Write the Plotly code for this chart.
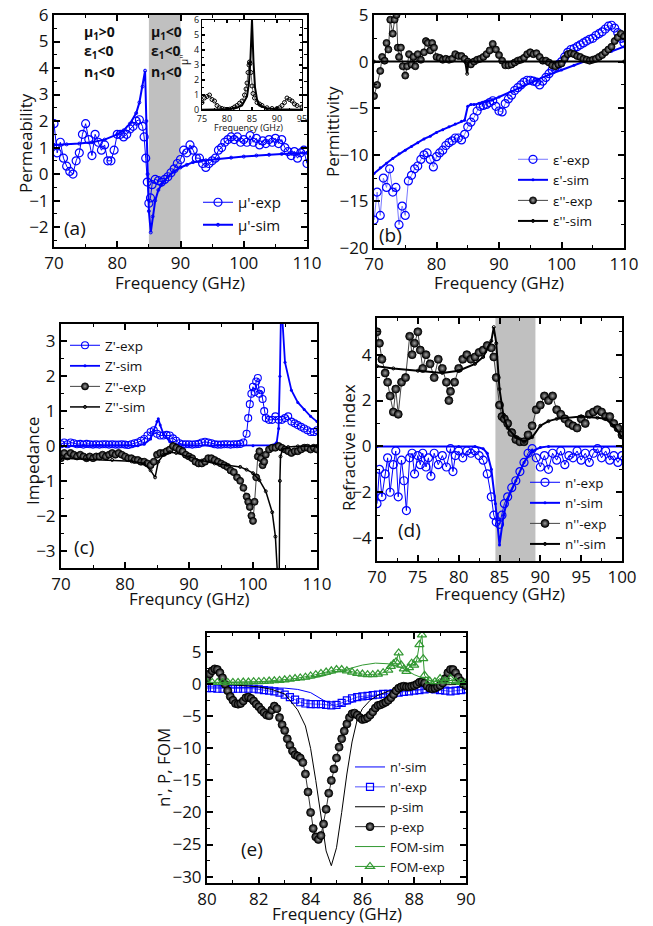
import numpy as np
import plotly.graph_objects as go

# ---------------- Panel (a): permeability ----------------
mu_exp_f = [70.0,70.5,71.0,71.5,72.0,72.5,73.0,73.5,74.0,74.5,75.0,75.5,76.0,76.5,77.0,77.5,78.0,78.5,79.0,79.5,
            80.0,80.5,81.0,81.5,82.0,82.5,83.0,83.5,84.0,84.25,84.5,84.75,85.0,85.25,85.5,86.0,86.5,87.0,87.5,88.0,
            88.5,89.0,89.5,90.0,90.5,91.0,91.5,92.0,92.5,93.0,93.5,94.0,94.5,95.0,95.5,96.0,96.5,97.0,97.5,98.0,
            98.5,99.0,99.5,100.0,100.5,101.0,101.5,102.0,102.5,103.0,103.5,104.0,104.5,105.0,105.5,106.0,106.5,107.0,
            107.5,108.0,108.5,109.0,109.5,110.0]
mu_exp_v = [1.9,0.8,1.2,0.6,0.3,0.1,0.0,0.5,0.8,1.5,1.9,1.3,0.7,1.5,1.2,0.9,1.1,0.5,0.5,0.9,
            1.5,1.5,1.4,1.5,1.7,1.8,2.0,2.05,1.8,1.4,0.6,-0.3,-1.1,-0.9,-0.4,-0.2,-0.25,-0.3,-0.2,-0.1,
            0.05,0.2,0.4,0.55,0.9,0.8,1.1,0.9,0.6,0.6,0.4,0.25,0.4,0.5,0.6,0.9,1.0,1.2,1.3,1.4,
            1.3,1.4,1.2,1.3,1.2,1.45,1.2,1.35,1.1,1.25,1.15,1.3,1.2,1.35,1.15,1.3,1.0,0.85,
            0.7,0.85,0.6,0.8,0.9,0.4]
mu_sim_f = [70,72,74,76,78,80,81,82,83,83.5,84,84.4,84.6,84.8,85.0,85.3,85.6,86.0,86.5,87,88,89,90,91,92,94,96,98,100,102,104,106,108,110]
mu_sim_v = [1.1,1.12,1.15,1.2,1.3,1.5,1.65,1.9,2.3,2.7,3.3,3.9,2.0,0.0,-1.4,-2.2,-1.6,-1.0,-0.6,-0.4,-0.1,0.1,0.25,0.35,0.45,0.52,0.58,0.62,0.66,0.7,0.73,0.76,0.78,0.8]

# inset: mu''
mu2_exp_f = [75,75.5,76,76.5,77,77.5,78,78.5,79,79.5,80,80.5,81,81.5,82,82.5,83,83.5,83.8,84,84.2,84.4,84.5,84.6,84.8,85,85.2,85.5,86,86.5,87,88,89,90,90.5,91,91.5,92,92.5,93,93.5,94,95]
mu2_exp_v = [0.5,0.8,0.9,1.0,0.7,0.6,0.3,0.15,0.1,0.05,0.0,0.05,0.1,0.2,0.3,0.45,0.6,1.0,1.4,1.8,2.5,3.0,3.2,3.1,2.5,1.6,1.1,0.8,0.5,0.4,0.3,0.15,0.1,0.1,0.15,0.3,0.5,0.8,0.7,0.6,0.4,0.3,0.2]
mu2_sim_f = [75,78,80,82,83,84,84.4,84.7,85.0,85.3,85.6,86.0,86.5,88,90,95]
mu2_sim_v = [0.02,0.03,0.05,0.15,0.3,0.9,1.8,3.5,6.0,3.2,1.5,0.7,0.3,0.1,0.05,0.02]

# ---------------- Panel (b): permittivity ----------------
eps_exp_f = [70.0+0.5*i for i in range(81)]
eps_re_exp = [-17.0,-14.0,-16.5,-12.5,-13.5,-11.5,-14.0,-13.5,-17.5,-15.5,-16.5,-12.8,-12.2,-11.5,-11.2,-10.5,-10.0,-9.8,-10.5,-11.3,
              -10.2,-9.8,-9.5,-9.0,-8.7,-8.5,-8.2,-8.2,-8.4,-7.8,-7.0,-6.5,-6.0,-5.3,-4.8,-4.7,-4.6,-4.4,-4.2,-4.8,
              -5.3,-5.4,-4.5,-4.0,-3.6,-3.1,-2.8,-2.5,-2.2,-2.0,-2.0,-2.1,-2.2,-2.5,-2.1,-1.7,-1.3,-0.9,-0.6,-0.3,
              0.0,0.5,1.0,1.3,1.4,1.6,1.8,2.0,2.2,2.4,2.5,2.8,3.0,3.2,3.5,3.8,3.9,3.6,3.1,2.5,2.0]
eps_re_sim_f = [70,71,72,73,74,75,76,77,78,79,80,81,82,83,84,84.5,85.0,85.5,86,87,88,89,90,92,94,96,98,100,102,104,106,108,110]
eps_re_sim_v = [-12.0,-11.4,-10.9,-10.4,-9.9,-9.5,-9.1,-8.7,-8.3,-8.0,-7.6,-7.3,-7.0,-6.7,-6.4,-6.3,-4.8,-4.6,-4.6,-4.5,-4.3,-4.1,-3.8,-3.2,-2.6,-2.0,-1.4,-0.9,-0.4,0.1,0.6,1.1,1.6]
eps_im_exp_f = [70,70.5,71,71.3,71.7,72,72.3,72.6,73,73.3,73.6,73.8,74,74.3,74.6,75,75.3,75.6,76,76.3,76.6,77,77.5,78,78.3,78.6,79,79.3,79.6,
                80,80.5,81,81.5,82,82.5,83,83.5,84,84.5,85,85.5,86,86.5,87,87.5,88,88.5,89,89.5,90,90.5,91,91.5,92,92.5,93,93.5,94,94.5,
                95,95.5,96,96.5,97,97.5,98,98.5,99,99.5,100,100.5,101,101.5,102,102.5,103,103.5,104,104.5,105,105.5,106,106.5,107,107.5,
                108,108.5,109,109.5,110]
eps_im_exp_v = [-3.7,-2.5,-1.0,0.5,0.1,2.0,1.3,4.5,3.0,4.5,5.0,1.5,0.5,1.5,-0.5,-1.5,-0.5,0.8,-0.3,0.5,-0.5,0.8,0.2,1.0,2.2,2.0,1.2,2.0,1.5,
                0.5,0.4,0.2,0.3,0.2,0.3,0.8,0.6,0.6,0.3,0.0,-0.3,0.0,0.2,0.3,0.5,0.8,1.2,1.9,1.3,0.7,0.1,-0.4,-0.4,-0.3,-0.1,0.1,0.2,0.4,0.8,
                1.0,0.8,0.9,0.5,0.1,0.1,-0.1,-0.4,-0.5,-0.3,-0.2,0.3,0.8,0.9,0.8,0.6,0.5,0.3,0.2,0.1,0.2,0.3,0.5,0.7,1.0,1.3,
                1.6,2.2,2.6,3.0,2.7]
eps_im_sim_f = [70,84.6,84.9,85.1,110]
eps_im_sim_v = [0.0,0.0,-1.3,0.0,0.0]

# ---------------- Panel (c): impedance ----------------
z_re_exp_f = [70.0+0.5*i for i in range(58)] + [99.0,99.25,99.5,99.75,100.0,100.25,100.5,100.75,101.0,101.25,101.5,101.75] + [102.0+0.5*i for i in range(17)]
z_re_exp_v = [0.05,0.1,0.05,0.1,0.08,0.05,0.06,0.04,0.06,0.05,0.04,0.05,0.04,0.05,0.05,0.04,0.05,0.04,0.04,0.05,
              0.04,0.03,0.05,0.08,0.1,0.15,0.2,0.3,0.4,0.45,0.35,0.3,0.3,0.32,0.3,0.22,0.15,0.08,0.05,0.05,
              0.05,0.04,0.05,0.06,0.1,0.12,0.1,0.08,0.05,0.04,0.04,0.05,0.05,0.04,0.05,0.05,0.06,0.1,
              0.35,0.8,1.2,1.5,1.7,1.55,1.85,1.95,1.5,1.6,1.35,1.0,
              0.8,0.75,0.75,0.85,0.75,0.75,0.8,0.85,0.7,0.65,0.6,0.55,0.5,0.45,0.4,0.4,0.45]
z_re_sim_f = [70,82,83,84,84.5,85.0,85.2,85.5,86,87,88,90,100,103,103.7,104.0,104.2,104.35,104.6,105,106,107,108,109,110]
z_re_sim_v = [0.0,0.01,0.05,0.2,0.45,0.7,0.78,0.6,0.35,0.12,0.04,0.01,0.01,0.02,0.1,0.5,2.0,3.6,3.6,2.4,1.6,1.25,1.05,0.85,0.7]
z_im_exp_f = [70.0+0.5*i for i in range(58)] + [99.0,99.25,99.5,99.75,100.0,100.25,100.5,100.75,101.0,101.25,101.5,101.75] + [102.0+0.5*i for i in range(17)]
z_im_exp_v = [-0.35,-0.2,-0.3,-0.2,-0.25,-0.3,-0.25,-0.3,-0.35,-0.3,-0.35,-0.3,-0.3,-0.25,-0.3,-0.25,-0.2,-0.25,-0.2,-0.25,
              -0.3,-0.35,-0.35,-0.4,-0.4,-0.45,-0.45,-0.5,-0.55,-0.45,-0.25,-0.2,-0.2,-0.15,-0.1,0.0,-0.05,-0.1,-0.15,-0.25,
              -0.3,-0.35,-0.45,-0.5,-0.5,-0.45,-0.35,-0.35,-0.4,-0.45,-0.5,-0.55,-0.6,-0.7,-0.75,-0.9,-1.0,-1.2,
              -1.45,-1.6,-1.75,-2.0,-2.15,-1.6,-0.9,-0.3,-0.15,-0.35,-0.55,-0.45,
              -0.25,-0.1,-0.05,-0.05,0.0,-0.05,-0.1,-0.15,-0.2,-0.15,-0.15,-0.1,-0.05,-0.05,-0.1,-0.05,-0.1]
z_im_sim_f = [70,74,78,81,83,84,84.7,85.2,86,87,88,90,92,94,96,98,99,100,101,102,103,103.5,103.8,104.1,104.2,104.3,104.6,105.5,107,110]
z_im_sim_v = [-0.35,-0.38,-0.4,-0.44,-0.5,-0.7,-0.9,-0.45,-0.25,-0.18,-0.2,-0.32,-0.42,-0.5,-0.55,-0.6,-0.68,-0.78,-0.98,-1.3,-1.9,-2.6,-3.6,-3.6,-1.0,-0.3,-0.1,-0.03,-0.01,0.0]

# ---------------- Panel (d): refractive index ----------------
n_im_exp_f = [70,70.3,70.6,71,71.3,71.6,72,72.3,72.6,73,73.5,74,74.3,74.6,75,75.3,75.6,76,76.5,77,77.5,78,78.5,78.8,79,79.5,80,80.5,81,81.5,82,82.5,83,83.5,84,84.3,84.6,
              85,85.3,85.6,86,86.5,87,87.5,88,88.5,89,89.5,90,90.5,91,91.5,92,92.5,93,93.5,94,94.5,95,95.5,96,96.5,97,97.5,98,98.5,99,99.5,100]
n_im_exp_v = [5.0,4.5,3.8,3.2,2.8,2.2,1.5,2.5,1.4,2.8,3.0,4.8,4.0,4.5,5.0,4.2,3.4,4.0,3.6,3.0,3.8,3.4,2.8,2.0,2.4,2.8,3.4,3.8,4.0,3.8,3.9,4.1,4.2,4.4,4.3,3.9,3.0,
              1.8,1.3,1.2,1.0,0.6,0.3,0.2,0.2,0.5,0.9,1.6,1.8,2.2,2.0,2.2,1.6,1.4,1.2,1.0,0.9,0.8,1.2,1.0,1.4,1.5,1.6,1.5,1.3,1.3,1.0,0.8,0.5]
n_im_sim_f = [70,72,75,78,80,82,83,84,84.3,84.6,85,85.5,86,87,88,89,90,91,92,95,97,98,99,100]
n_im_sim_v = [3.5,3.4,3.3,3.2,3.3,3.6,3.9,4.6,5.2,4.5,2.5,1.3,0.8,0.4,0.2,0.4,0.9,1.1,1.2,1.3,1.25,1.2,0.9,0.4]
n_re_exp_f = [70,70.3,70.6,71,71.3,71.6,72,72.3,72.6,73,73.3,73.6,74,74.3,74.6,75,75.3,75.6,76,76.3,76.6,77,77.5,78,78.5,79,79.3,79.6,80,80.5,81,81.5,82,82.5,
              83,83.5,84,84.3,84.6,85,85.3,85.6,86,86.5,87,87.5,88,88.5,89,
              89.5,90,90.5,91,91.5,92,92.5,93,93.5,94,94.5,95,95.5,96,96.5,97,97.5,98,98.5,99,99.5,100]
n_re_exp_v = [-2.5,-1.0,-2.2,-1.2,-0.5,-2.0,-0.8,-0.2,-2.2,-0.6,-1.5,-2.8,-0.5,-0.3,-1.2,-0.4,-0.8,-0.3,-0.9,-0.5,-1.3,-0.3,-0.8,-0.4,-0.9,-0.1,-1.1,-0.4,-0.2,-0.5,-0.2,-0.3,-0.2,-0.4,
              -0.6,-1.2,-2.2,-3.0,-3.3,-3.4,-3.0,-2.5,-2.2,-1.8,-1.5,-1.1,-0.7,-0.3,-0.1,
              -0.5,-0.9,-0.4,-1.0,-0.3,-0.6,-0.2,-0.8,-0.4,-0.5,-0.2,-0.6,-0.3,-0.7,-0.3,-0.1,-0.5,-0.2,-0.6,-0.4,-0.7,-0.4]
n_re_sim_f = [70,80,82,83,83.5,84,84.5,85,85.5,86,87,88,89,90,91,100]
n_re_sim_v = [0.0,0.0,0.0,-0.1,-0.3,-1.0,-2.5,-4.3,-3.0,-2.3,-1.5,-0.7,-0.2,-0.05,0.0,0.0]

# ---------------- Panel (e): n', P, FOM ----------------
p_exp_f = [80.0+0.1*i for i in range(101)]
p_exp_v = [1.0,1.6,2.1,2.4,2.3,1.8,1.0,0.0,-1.0,-1.9,-2.5,-3.0,-3.1,-3.0,-2.6,-2.1,-2.0,-2.2,-2.6,-3.1,
           -3.5,-4.0,-4.4,-4.8,-4.9,-4.0,-3.4,-3.8,-5.2,-6.3,-7.2,-8.5,-9.5,-10.4,-11.0,-11.2,-11.5,-12.2,-14.0,-16.8,
           -20.0,-22.5,-23.8,-24.2,-23.6,-21.8,-19.5,-17.0,-15.0,-13.2,-11.5,-9.8,-8.5,-7.3,-6.2,-5.2,-4.6,-4.5,-4.8,-5.2,
           -5.5,-5.4,-5.2,-4.8,-4.3,-3.7,-3.3,-3.2,-3.0,-2.8,-2.5,-2.1,-1.6,-1.0,-0.6,-0.4,-0.3,-0.4,-0.4,-0.3,
           -0.2,0.0,0.3,0.4,0.2,-0.3,-0.6,-0.7,-0.6,-0.4,-0.2,0.2,0.9,1.8,2.3,2.3,1.8,1.1,0.5,0.0,-0.2]
p_sim_f = [80,81,82,82.5,83,83.5,83.8,84.0,84.2,84.4,84.6,84.8,85.0,85.2,85.4,85.6,85.8,86.0,86.3,86.6,87.0,87.5,88,89,90]
p_sim_v = [0.0,-0.1,-0.4,-0.8,-1.5,-4.0,-6.5,-10.0,-15.0,-20.5,-26.0,-28.3,-25.5,-20.0,-14.0,-9.0,-5.5,-3.8,-2.5,-1.7,-1.1,-0.6,-0.3,-0.1,0.0]
ne_exp_f = [80.0+0.2*i for i in range(51)]
ne_exp_v = [-0.6,-0.6,-0.7,-0.7,-0.7,-0.7,-0.7,-0.7,-0.7,-0.7,-0.8,-0.9,-1.0,-1.1,-1.3,-1.6,-2.0,-2.4,-2.8,-3.0,
            -3.1,-3.1,-3.1,-3.2,-3.3,-3.2,-2.9,-2.5,-2.2,-2.0,-1.9,-1.8,-1.7,-1.6,-1.5,-1.5,-1.4,-1.3,-1.2,-1.1,
            -1.0,-0.9,-0.8,-0.7,-0.8,-0.9,-1.0,-1.1,-1.0,-0.9,-0.8]
ne_sim_f = [80,82,83,83.5,84,84.5,85,85.5,86,86.5,87,88,89,90]
ne_sim_v = [-0.4,-0.5,-0.6,-0.8,-1.3,-2.5,-3.5,-3.0,-2.2,-1.8,-1.4,-0.9,-0.6,-0.4]
fom_exp_f = [80.0+0.2*i for i in range(35)] + [87.0,87.1,87.2,87.3,87.4,87.5,87.6,87.7,87.8,87.9,88.0,88.1,88.2,88.3,88.35,88.4,88.6,88.8,89.0,89.2,89.4,89.6,89.8,90.0]
fom_exp_v = [0.3,0.3,0.3,0.3,0.3,0.3,0.3,0.35,0.35,0.4,0.4,0.45,0.5,0.55,0.6,0.7,0.8,0.9,1.0,1.1,
             1.3,1.5,1.7,1.9,2.1,2.3,2.3,2.1,1.9,1.7,1.6,1.5,1.5,1.6,1.8,
             2.2,2.8,3.2,3.5,4.9,3.0,2.4,2.0,2.6,3.3,3.0,3.8,6.2,7.7,4.0,1.4,0.5,0.4,0.9,0.5,0.9,0.4,0.3,0.2]
fom_sim_f = [80,81,82,83,84,84.5,85,85.5,86,86.5,87,87.5,88,88.5,89,90]
fom_sim_v = [0.2,0.25,0.3,0.45,0.9,1.3,1.9,2.5,3.0,3.3,3.2,2.6,1.5,0.7,0.35,0.2]

# ---------------- styling ----------------
FONT = "Open Sans"
TXT = "#111111"
BLUE = "#0000ff"
GREEN = "#339933"
W, H = 653, 926
OFF = 8                       # page body margin of the browser
FW, FH = W - OFF, H - OFF     # figure size so that it fits the window

def px_x(p):
    return (p - OFF) / FW

def px_y(p):
    return 1 - (p - OFF) / FH

fig = go.Figure()

def sphere(size=7):
    return dict(symbol="circle", size=size, color="#000000",
                gradient=dict(type="radial", color="#a0a0a0"),
                line=dict(color="black", width=0.8))

def add(x, y, name, xa, ya, legend, mode, line, marker=None, showlegend=True):
    tr = go.Scatter(x=x, y=y, name=name, mode=mode, line=line, xaxis=xa, yaxis=ya,
                    legend=legend, showlegend=showlegend)
    if marker is not None:
        tr.marker = marker
    fig.add_trace(tr)

open_blue = dict(symbol="circle-open", size=8, color=BLUE, line=dict(width=1.2, color=BLUE))
open_blue_s = dict(symbol="circle-open", size=7, color=BLUE, line=dict(width=1.1, color=BLUE))

# (a)
add(mu_exp_f, mu_exp_v, "\u03bc'-exp", "x", "y", "legend", "lines+markers", dict(color=BLUE, width=1), open_blue)
add(mu_sim_f, mu_sim_v, "\u03bc'-sim", "x", "y", "legend", "lines+markers", dict(color=BLUE, width=2),
    dict(symbol="circle-open", size=3, color=BLUE))
# inset
add(mu2_exp_f, mu2_exp_v, "\u03bc''-exp", "x6", "y6", "legend", "lines+markers", dict(color="black", width=0.6),
    dict(symbol="circle-open", size=4, color="black", line=dict(width=1, color="black")), showlegend=False)
add(mu2_sim_f, mu2_sim_v, "\u03bc''-sim", "x6", "y6", "legend", "lines", dict(color="black", width=2), showlegend=False)

# (b)
add(eps_exp_f, eps_re_exp, "\u03b5'-exp", "x2", "y2", "legend2", "lines+markers", dict(color="#7777ff", width=1),
    open_blue)
add(eps_re_sim_f, eps_re_sim_v, "\u03b5'-sim", "x2", "y2", "legend2", "lines+markers", dict(color=BLUE, width=2),
    dict(symbol="circle", size=3, color=BLUE))
add(eps_im_exp_f, eps_im_exp_v, "\u03b5''-exp", "x2", "y2", "legend2", "lines+markers", dict(color="#444444", width=1),
    sphere(7))
add(eps_im_sim_f, eps_im_sim_v, "\u03b5''-sim", "x2", "y2", "legend2", "lines+markers", dict(color="black", width=2),
    dict(symbol="circle-open", size=3, color="black"))

# (c)
add(z_re_exp_f, z_re_exp_v, "Z'-exp", "x3", "y3", "legend3", "lines+markers", dict(color=BLUE, width=1), open_blue_s)
add(z_re_sim_f, z_re_sim_v, "Z'-sim", "x3", "y3", "legend3", "lines+markers", dict(color=BLUE, width=1.8),
    dict(symbol="circle", size=3, color=BLUE))
add(z_im_exp_f, z_im_exp_v, "Z''-exp", "x3", "y3", "legend3", "lines+markers", dict(color="#444444", width=1), sphere(7))
add(z_im_sim_f, z_im_sim_v, "Z''-sim", "x3", "y3", "legend3", "lines+markers", dict(color="black", width=1.5),
    dict(symbol="circle-open", size=3, color="black"))

# (d)
add(n_re_exp_f, n_re_exp_v, "n'-exp", "x4", "y4", "legend4", "lines+markers", dict(color=BLUE, width=1), open_blue)
add(n_re_sim_f, n_re_sim_v, "n'-sim", "x4", "y4", "legend4", "lines+markers", dict(color=BLUE, width=2),
    dict(symbol="circle", size=3, color=BLUE))
add(n_im_exp_f, n_im_exp_v, "n''-exp", "x4", "y4", "legend4", "lines+markers", dict(color="#444444", width=1), sphere(8))
add(n_im_sim_f, n_im_sim_v, "n''-sim", "x4", "y4", "legend4", "lines+markers", dict(color="black", width=2),
    dict(symbol="circle-open", size=3, color="black"))

# (e)
add(ne_sim_f, ne_sim_v, "n'-sim", "x5", "y5", "legend5", "lines", dict(color=BLUE, width=1))
add(ne_exp_f, ne_exp_v, "n'-exp", "x5", "y5", "legend5", "lines+markers", dict(color="#5555ff", width=1),
    dict(symbol="square-open", size=7, color=BLUE, line=dict(width=1.2, color=BLUE)))
add(p_sim_f, p_sim_v, "p-sim", "x5", "y5", "legend5", "lines", dict(color="black", width=1))
add(p_exp_f, p_exp_v, "p-exp", "x5", "y5", "legend5", "lines+markers", dict(color="#333333", width=1), sphere(8))
add(fom_sim_f, fom_sim_v, "FOM-sim", "x5", "y5", "legend5", "lines", dict(color=GREEN, width=1))
add(fom_exp_f, fom_exp_v, "FOM-exp", "x5", "y5", "legend5", "lines+markers", dict(color=GREEN, width=1),
    dict(symbol="triangle-up-open", size=8, color=GREEN, line=dict(width=1.2, color=GREEN)))

def ax(domain, rng, dtick, mdtick, anchor, tsize=17, lw=2, tl=6):
    return dict(domain=domain, range=rng, dtick=dtick, anchor=anchor, automargin=False,
                showline=True, linecolor="black", linewidth=lw, mirror="allticks",
                ticks="inside", ticklen=tl, tickwidth=1.5, tickcolor="black",
                minor=dict(ticks="inside", ticklen=max(2, tl // 2), tickwidth=1.2, tickcolor="black", dtick=mdtick),
                showgrid=False, zeroline=False, ticklabeloverflow="allow",
                tickfont=dict(family=FONT, size=tsize, color=TXT))

layout = dict(
    width=FW, height=FH, margin=dict(l=0, r=0, t=0, b=0, autoexpand=False),
    paper_bgcolor="white", plot_bgcolor="white",
    font=dict(family=FONT, color=TXT),
    xaxis=ax([px_x(54), px_x(307)], [70, 110], 10, 5, "y"),
    yaxis=ax([px_y(247), px_y(15)], [-2.75, 6], 1, 0.5, "x"),
    xaxis2=ax([px_x(374), px_x(624)], [70, 110], 10, 5, "y2"),
    yaxis2=ax([px_y(248), px_y(15)], [-20, 5], 5, 2.5, "x2"),
    xaxis3=ax([px_x(61), px_x(317)], [70, 110], 10, 5, "y3"),
    yaxis3=ax([px_y(568), px_y(324)], [-3.5, 3.5], 1, 0.5, "x3"),
    xaxis4=ax([px_x(377), px_x(622)], [70, 100], 5, 2.5, "y4"),
    yaxis4=ax([px_y(561), px_y(318)], [-5, 5.6], 2, 1, "x4"),
    xaxis5=ax([px_x(207), px_x(466)], [80, 90], 2, 1, "y5"),
    yaxis5=ax([px_y(883), px_y(633)], [-31, 8], 5, 2.5, "x5"),
    xaxis6=ax([px_x(202), px_x(302)], [75, 95], 5, 2.5, "y6", tsize=9, lw=1, tl=3),
    yaxis6=ax([px_y(110), px_y(20)], [0, 6], 1, 0.5, "x6", tsize=9, lw=1, tl=3),
)

def leg(x, y, size=14):
    return dict(x=x, y=y, xanchor="left", yanchor="top", bgcolor="rgba(0,0,0,0)",
                font=dict(family=FONT, size=size, color=TXT), tracegroupgap=0,
                itemsizing="trace")

layout["legend"] = leg(px_x(198), px_y(186), size=15)
layout["legend2"] = leg(px_x(513), px_y(144), size=13.5)
layout["legend3"] = leg(px_x(65), px_y(330), size=13.5)
layout["legend4"] = leg(px_x(525), px_y(467), size=13.5)
layout["legend5"] = leg(px_x(350), px_y(752), size=13)

fig.update_layout(**layout)

# shaded regions
fig.add_shape(type="rect", xref="x", yref="y domain", x0=85, x1=90, y0=0, y1=1,
              fillcolor="#c0c0c0", line=dict(width=0), layer="below")
fig.add_shape(type="rect", xref="x4", yref="y4 domain", x0=84.5, x1=89.4, y0=0, y1=1,
              fillcolor="#c0c0c0", line=dict(width=0), layer="below")

def note(text, x, y, size, angle=0, xanchor="center"):
    fig.add_annotation(text=text, xref="paper", yref="paper", x=px_x(x), y=px_y(y),
                       xanchor=xanchor, yanchor="middle", showarrow=False, textangle=angle,
                       font=dict(family=FONT, size=size, color=TXT))

# axis titles
for t, x, y in [("Frequency (GHz)", 180, 282), ("Frequency (GHz)", 499, 282),
                ("Frequncy (GHz)", 189, 598), ("Frequency (GHz)", 500, 593),
                ("Frequency (GHz)", 337, 913)]:
    note(t, x, y, 17)
for t, x, y in [("Permeability", 25, 143), ("Permittivity", 332, 132), ("Impedance", 32, 461),
                ("Refractive index", 348, 448), ("n', P, FOM", 163, 768)]:
    note(t, x, y, 17, angle=-90)
# inset titles
note("Frequency (GHz)", 248, 127, 9)
note("\u03bc''", 184, 60, 10, angle=-90)

# panel labels
for txt, x, y in [("(a)", 62, 228), ("(b)", 377, 235), ("(c)", 72, 547), ("(d)", 396, 530), ("(e)", 239, 849)]:
    note(txt, x, y, 19, xanchor="left")

# region labels in (a)
rows = [32, 52, 72]
col1 = ["\u03bc<sub>1</sub>&gt;0", "\u03b5<sub>1</sub>&lt;0", "n<sub>1</sub>&lt;0"]
col2 = ["\u03bc<sub>1</sub>&lt;0", "\u03b5<sub>1</sub>&lt;0", "n<sub>1</sub>&lt;0"]
for r, t1, t2 in zip(rows, col1, col2):
    note("<b>" + t1 + "</b>", 82, r, 14, xanchor="left")
    note("<b>" + t2 + "</b>", 149, r, 14, xanchor="left")

fig.write_html("out.html")
